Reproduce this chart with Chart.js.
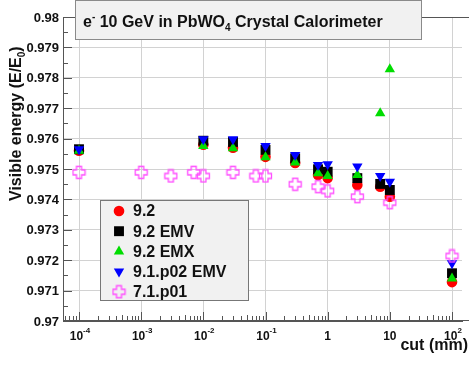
<!DOCTYPE html>
<html><head><meta charset="utf-8">
<script src="https://cdn.jsdelivr.net/npm/chart.js@4.4.1/dist/chart.umd.min.js"></script>
<style>html,body{margin:0;padding:0;background:#fff}#wrap{width:469px;height:365px;position:relative}</style>
</head><body><div id="wrap"><canvas id="c" width="469" height="365"></canvas></div>
<script>
// ---- data ----
const cuts = [0.0001, 0.01, 0.03, 0.1, 0.3, 0.7, 1, 3, 7, 10, 100];
const v92     = [0.9756, 0.9758, 0.9757, 0.9754, 0.9752, 0.9748, 0.9747, 0.97447, 0.97442, 0.97409, 0.97128];
const v92EMV  = [0.97565, 0.97593, 0.97589, 0.97563, 0.97535, 0.97499, 0.97491, 0.9747, 0.97451, 0.97431, 0.97157];
const v92EMX  = [0.9756, 0.97576, 0.97568, 0.97539, 0.97521, 0.97486, 0.97477, 0.9748, 0.97683, 0.97828, 0.9714];
const v91EMV  = [0.97565, 0.97598, 0.97598, 0.97576, 0.97546, 0.97513, 0.97516, 0.97508, 0.97477, 0.97458, 0.9719];
const cuts71  = [0.0001, 0.001, 0.003, 0.007, 0.01, 0.03, 0.07, 0.1, 0.3, 0.7, 1, 3, 10, 100];
const v71     = [0.97489, 0.97489, 0.97477, 0.97489, 0.97477, 0.97489, 0.97477, 0.97477, 0.9745, 0.97442, 0.97428, 0.97409, 0.97389, 0.97214];
const seriesNames = ['9.2', '9.2 EMV', '9.2 EMX', '9.1.p02 EMV', '7.1.p01'];
const xTickExp = [-4, -3, -2, -1, 0, 1, 2];
const yTicks = [0.97, 0.971, 0.972, 0.973, 0.974, 0.975, 0.976, 0.977, 0.978, 0.979, 0.98];

const FONT = '"Liberation Sans", Arial, sans-serif';
const pts = (xs, ys) => xs.map((x, i) => ({x: x, y: ys[i]}));

// open cross marker
function openCross(color) {
  const c = document.createElement('canvas');
  c.width = 15; c.height = 15;
  const g = c.getContext('2d');
  const a = 5, b = 10, lo = 1.5, hi = 13.5;
  g.beginPath();
  g.moveTo(a, lo); g.lineTo(b, lo); g.lineTo(b, a); g.lineTo(hi, a); g.lineTo(hi, b);
  g.lineTo(b, b); g.lineTo(b, hi); g.lineTo(a, hi); g.lineTo(a, b); g.lineTo(lo, b);
  g.lineTo(lo, a); g.lineTo(a, a); g.closePath();
  g.strokeStyle = color; g.lineWidth = 1.3; g.stroke();
  return c;
}
const PINK = '#ff4dff';
const crossImg = openCross(PINK);

const styles = [
  {pointStyle: 'circle', radius: 5.3, rotation: 0, color: '#ff0000'},
  {pointStyle: 'rect', radius: 7, rotation: 0, color: '#000000'},
  {pointStyle: 'triangle', radius: 6, rotation: 0, color: '#00dd00'},
  {pointStyle: 'triangle', radius: 6, rotation: 180, color: '#0000ff'},
  {pointStyle: crossImg, radius: 7, rotation: 0, color: PINK}
];
const dataSets = [pts(cuts, v92), pts(cuts, v92EMV), pts(cuts, v92EMX), pts(cuts, v91EMV), pts(cuts71, v71)];

const datasets = dataSets.map((d, i) => ({
  label: seriesNames[i], data: d, showLine: false,
  pointStyle: styles[i].pointStyle, pointRadius: styles[i].radius, pointRotation: styles[i].rotation,
  pointBackgroundColor: styles[i].color, pointBorderColor: styles[i].color, pointBorderWidth: 0,
  pointHoverRadius: styles[i].radius, order: 5 - i
}));

const deco = {
  id: 'deco',
  afterDatasetsDraw(chart) {
    const ctx = chart.ctx, xs = chart.scales.x, ys = chart.scales.y, ca = chart.chartArea;
    ctx.save();
    ctx.strokeStyle = '#555'; ctx.lineWidth = 1;
    // top and bottom frame lines to the page edge
    ctx.beginPath(); ctx.moveTo(ca.left, ca.top + 0.5); ctx.lineTo(469, ca.top + 0.5); ctx.stroke();
    ctx.beginPath(); ctx.moveTo(ca.left, Math.round(ca.bottom) - 0.5); ctx.lineTo(469, Math.round(ca.bottom) - 0.5); ctx.stroke();
    // y minor/major ticks
    for (let k = 0; k <= 20; k++) {
      const v = 0.97 + k * 0.0005;
      const y = Math.round(ys.getPixelForValue(v)) + 0.5;
      const len = (k % 2 === 0) ? 9 : 5;
      ctx.beginPath(); ctx.moveTo(ca.left, y); ctx.lineTo(ca.left + len, y); ctx.stroke();
    }
    // x minor/major ticks
    for (let e = -5; e <= 2; e++) {
      for (let m = 1; m <= 9; m++) {
        const v = m * Math.pow(10, e);
        if (v < xs.min || v > xs.max) continue;
        const x = Math.round(xs.getPixelForValue(v)) + 0.5;
        const len = m === 1 ? 9 : (m === 5 ? 6 : 5);
        ctx.beginPath(); ctx.moveTo(x, ca.bottom); ctx.lineTo(x, ca.bottom - len); ctx.stroke();
      }
    }
    ctx.restore();
  },
  afterDraw(chart) {
    const ctx = chart.ctx, xs = chart.scales.x, ys = chart.scales.y, ca = chart.chartArea;
    ctx.save();
    ctx.fillStyle = '#111';
    // y tick labels
    ctx.font = 'bold 13px ' + FONT;
    ctx.textAlign = 'right'; ctx.textBaseline = 'middle';
    yTicks.forEach(v => {
      const lbl = (Math.round(v * 1000) / 1000).toString();
      ctx.fillText(lbl, ca.left - 4, ys.getPixelForValue(v) + 1);
    });
    // x tick labels
    ctx.textBaseline = 'alphabetic';
    xTickExp.forEach(e => {
      const x = xs.getPixelForValue(Math.pow(10, e));
      if (e === 0 || e === 1) {
        ctx.font = 'bold 12px ' + FONT; ctx.textAlign = 'center';
        ctx.fillText(e === 0 ? '1' : '10', x, 340);
      } else {
        ctx.font = 'bold 12px ' + FONT;
        const w1 = ctx.measureText('10').width;
        ctx.font = 'bold 8px ' + FONT;
        const sup = e.toString();
        const w2 = ctx.measureText(sup).width;
        const x0 = x - (w1 + w2) / 2 + 1;
        ctx.textAlign = 'left';
        ctx.font = 'bold 12px ' + FONT; ctx.fillText('10', x0, 340);
        ctx.font = 'bold 8px ' + FONT; ctx.fillText(sup, x0 + w1, 333);
      }
    });
    // x title
    ctx.font = 'bold 16px ' + FONT; ctx.textAlign = 'right';
    ctx.fillText('cut (mm)', 468, 350);
    // y title (rotated)
    ctx.save();
    ctx.translate(21, 201); ctx.rotate(-Math.PI / 2);
    ctx.textAlign = 'left';
    ctx.font = 'bold 16px ' + FONT;
    let t1 = 'Visible energy (E/E';
    ctx.fillText(t1, 0, 0);
    let w = ctx.measureText(t1).width;
    ctx.font = 'bold 10px ' + FONT; ctx.fillText('0', w, 4);
    w += ctx.measureText('0').width;
    ctx.font = 'bold 16px ' + FONT; ctx.fillText(')', w, 0);
    ctx.restore();

    // title box
    ctx.fillStyle = '#f1f1f1'; ctx.fillRect(75.5, 0.5, 346, 39);
    ctx.strokeStyle = '#8a8a8a'; ctx.lineWidth = 1; ctx.strokeRect(75.5, 0.5, 346, 39);
    ctx.fillStyle = '#111'; ctx.textAlign = 'left';
    let x = 83;
    const parts = [['e', 16, 0], ['-', 10, -7], [' 10 GeV in PbWO', 16, 0], ['4', 10, 4], [' Crystal Calorimeter', 16, 0]];
    parts.forEach(p => {
      ctx.font = 'bold ' + p[1] + 'px ' + FONT;
      ctx.fillText(p[0], x, 27 + p[2]);
      x += ctx.measureText(p[0]).width;
    });

    // legend box
    ctx.fillStyle = '#f1f1f1'; ctx.fillRect(100.5, 200.5, 148, 100);
    ctx.strokeStyle = '#777'; ctx.strokeRect(100.5, 200.5, 148, 100);
    seriesNames.forEach((name, i) => {
      const y = 211 + i * 20.2;
      const s = styles[i];
      ctx.fillStyle = s.color; ctx.strokeStyle = s.color; ctx.lineWidth = 0.01;
      if (i === 4) {
        ctx.drawImage(crossImg, 119 - 7.5, y - 7.5);
      } else {
        ctx.beginPath();
        Chart.helpers.drawPoint(ctx, {pointStyle: s.pointStyle, rotation: s.rotation, radius: s.radius, borderWidth: 0}, 119, y);
      }
      ctx.fillStyle = '#111';
      ctx.font = 'bold 16px ' + FONT; ctx.textAlign = 'left'; ctx.textBaseline = 'middle';
      ctx.fillText(name, 133, y + 1);
    });
    ctx.restore();
  }
};

const chart = new Chart(document.getElementById('c'), {
  type: 'scatter',
  data: {datasets: datasets},
  options: {
    responsive: false, animation: false, devicePixelRatio: 1,
    layout: {padding: {left: 63, top: 17, right: 0, bottom: 44}},
    plugins: {legend: {display: false}, tooltip: {enabled: false}, title: {display: false}},
    scales: {
      x: {
        type: 'logarithmic', position: 'bottom', min: 5.5e-5, max: 188,
        afterBuildTicks: (sc) => { sc.ticks = xTickExp.map(e => ({value: Math.pow(10, e)})); },
        ticks: {display: false},
        grid: {color: '#d2d2d2', lineWidth: 1, drawTicks: false},
        border: {display: true, color: '#555', width: 1}
      },
      y: {
        type: 'linear', min: 0.97, max: 0.98,
        afterBuildTicks: (sc) => { sc.ticks = yTicks.map(v => ({value: v})); },
        ticks: {display: false},
        grid: {color: '#d2d2d2', lineWidth: 1, drawTicks: false},
        border: {display: true, color: '#555', width: 1}
      }
    }
  },
  plugins: [deco]
});
// fit the log axis range so that decades land where the reference has them (1e-4 at x=79, 1e2 at x=452)
(function () {
  const ca = chart.chartArea;
  const pxd = (452 - 79) / 6;
  chart.options.scales.x.min = Math.pow(10, -4 - (79 - ca.left) / pxd);
  chart.options.scales.x.max = Math.pow(10, 2 + (ca.right - 452) / pxd);
  chart.update('none');
})();
</script></body></html>
